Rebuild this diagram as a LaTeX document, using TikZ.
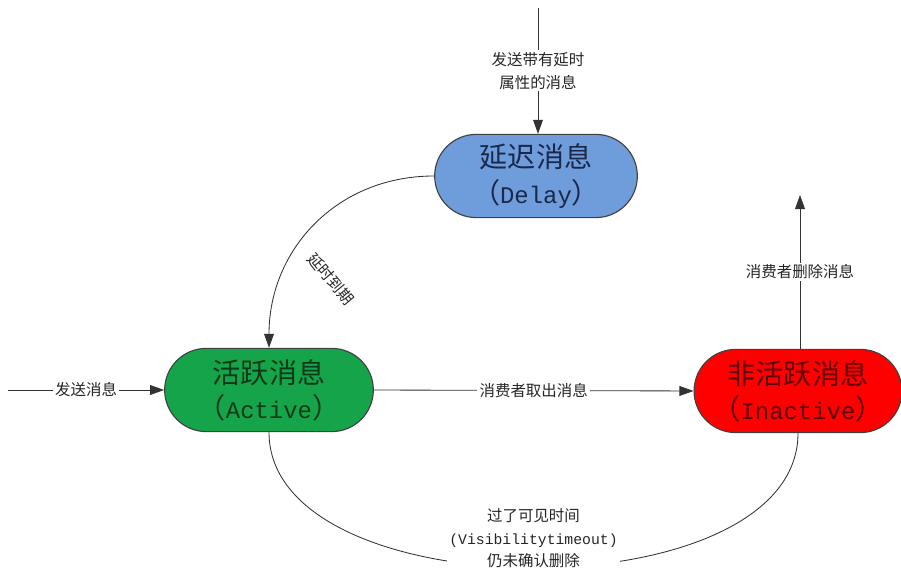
\documentclass[tikz,border=0pt]{standalone}
\usepackage{fontspec}
\newfontfamily\cjk{Noto Sans CJK SC}
\newfontfamily\mono{Liberation Mono}
\usetikzlibrary{arrows.meta,positioning,shapes.misc}
\definecolor{delayblue}{RGB}{111,157,220}
\definecolor{activegreen}{RGB}{22,164,74}
\definecolor{inactred}{RGB}{255,0,0}
\tikzset{
  state/.style={rounded rectangle, draw=black!75, line width=0.8pt, align=center,
    minimum height=2.08cm, font=\cjk\fontsize{20}{25}\selectfont},
  flow/.style={draw=black!80, line width=0.6pt, -{Triangle[length=10pt,width=7pt]}},
  lbl/.style={fill=white, inner sep=1.5pt, align=center, text=black!85,
    font=\cjk\fontsize{11}{16}\selectfont},
}
\newcommand{\latin}[1]{{\mono\fontsize{17}{25}\selectfont #1}}
\begin{document}
\begin{tikzpicture}[x=0.025cm,y=0.025cm]
    \useasboundingbox (0,0) rectangle (901,571);

    \node[state, fill=delayblue, text={rgb,255:red,25;green,40;blue,75}, minimum width=5.3cm] (delay) at (536,395) {延迟消息\\（\latin{Delay}）};
    \node[state, fill=activegreen, text={rgb,255:red,12;green,58;blue,22}, minimum width=5.45cm] (active) at (269,181) {活跃消息\\（\latin{Active}）};
    \node[state, fill=inactred, text={rgb,255:red,95;green,0;blue,0}, minimum width=5.05cm] (inactive) at (798,180) {非活跃消息\\（\latin{Inactive}）};

    \coordinate (send) at (538,563);
    \coordinate (src) at (8,181);
    \coordinate (gone) at (800,376);

    \draw[flow] (send) -- node[lbl] (sendlbl) {发送带有延时\\属性的消息} (delay.north -| send);
    \draw[flow] (src) -- node[lbl] (srclbl) {发送消息} (active.west);
    \draw[flow] (active.east) -- node[lbl] (takelbl) {消费者取出消息} (inactive.west);
    \draw[flow] (inactive.north -| gone) -- node[lbl] (dellbl) {消费者删除消息} (gone);
    \draw[flow] (delay.west) to[out=180,in=90,looseness=1.05] (active.north);
    \node[lbl, fill=none, rotate=-50] (expire) at (331,292) {延时到期};

    % timeout path back from inactive
    \draw[draw=black!80, line width=0.6pt] (active.south) to[out=-90,in=-90,looseness=0.87]
        node[lbl, pos=0.5, yshift=21] (timeout) {过了可见时间\\{\mono\fontsize{10.5}{16}\selectfont (Visibilitytimeout)}\\仍未确认删除} (inactive.south);
\end{tikzpicture}
\end{document}
